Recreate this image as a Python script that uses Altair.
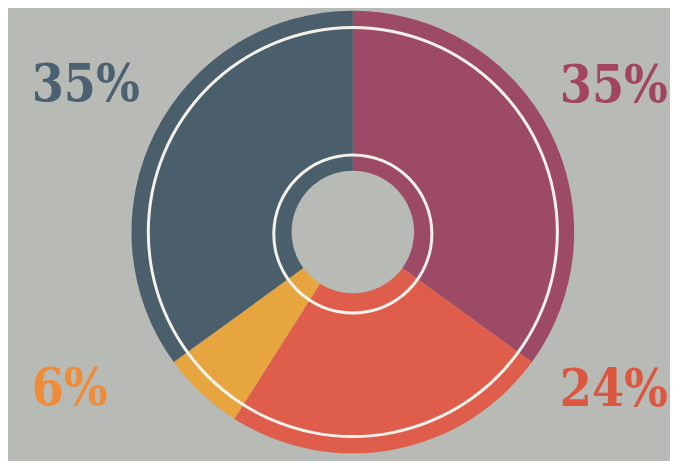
import altair as alt
import pandas as pd

# Data
categories = ["Crimson", "Red", "Orange", "Blue"]
values = [35, 24, 6, 35]
labels = ["35%", "24%", "6%", "35%"]
colors = ["#9c4a66", "#de5d4b", "#e6a53f", "#4a5e6c"]
label_colors = ["#a2465f", "#dc5640", "#ee8c3a", "#4b6070"]

df = pd.DataFrame({"cat": categories, "val": values, "idx": list(range(len(values)))})

CX, CY = 349, 224
BG = "#b8bab5"

slices = alt.Chart(df).mark_arc(outerRadius=224, innerRadius=62, stroke=None).encode(
    theta=alt.Theta("val:Q", stack=True),
    order=alt.Order("idx:Q"),
    color=alt.Color("cat:N", scale=alt.Scale(domain=categories, range=colors), legend=None),
    x=alt.value(CX),
    y=alt.value(CY),
)

ring_df = pd.DataFrame({"r": [1]})
outer_ring = alt.Chart(ring_df).mark_arc(innerRadius=205.5, outerRadius=208.5, color="#f4f1ea").encode(
    theta=alt.value(0), theta2=alt.value(6.2832), x=alt.value(CX), y=alt.value(CY)
)
inner_ring = alt.Chart(ring_df).mark_arc(innerRadius=78.5, outerRadius=81.5, color="#f4f1ea").encode(
    theta=alt.value(0), theta2=alt.value(6.2832), x=alt.value(CX), y=alt.value(CY + 2)
)

def label(i, x, y, align):
    d = pd.DataFrame({"t": [labels[i]]})
    return alt.Chart(d).mark_text(
        font="DejaVu Serif Condensed, Liberation Serif", fontWeight="bold", fontSize=52, align=align,
        baseline="alphabetic", color=label_colors[i]
    ).encode(text="t:N", x=alt.value(x), y=alt.value(y))

texts = [
    label(3, 24, 91, "left"),
    label(0, 668, 92, "right"),
    label(2, 24, 399, "left"),
    label(1, 668, 400, "right"),
]

chart = alt.layer(slices, outer_ring, inner_ring, *texts).properties(
    width=670, height=453, padding=0, autosize="none", background=BG
).configure_view(stroke=None)

chart.save("out.html", embed_options={"renderer": "svg", "actions": False})
